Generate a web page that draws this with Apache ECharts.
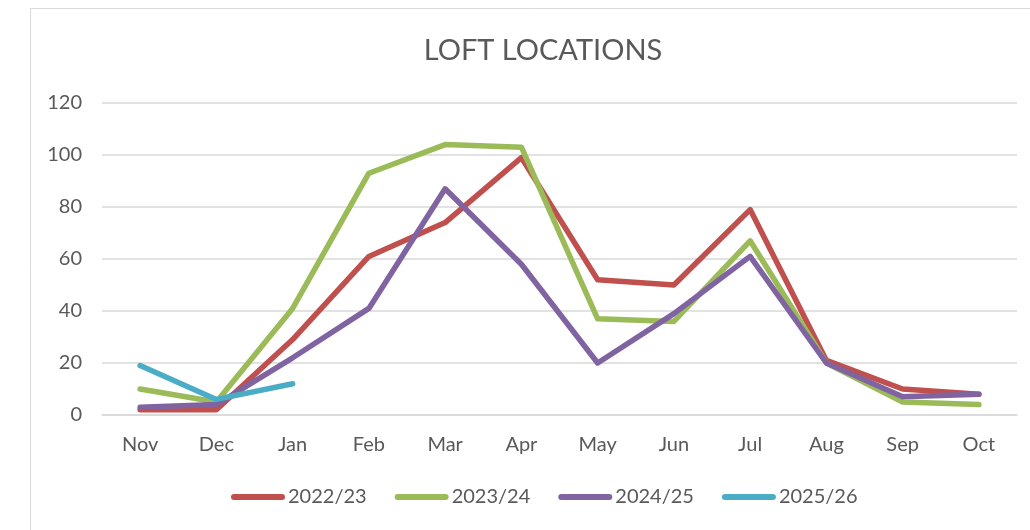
<!DOCTYPE html>
<html>
<head>
<meta charset="utf-8">
<script src="https://cdn.jsdelivr.net/npm/echarts@6/dist/echarts.min.js"></script>
<style>
  html, body { margin: 0; padding: 0; background: #fff; }
  #chart { width: 1030px; height: 530px; }
</style>
</head>
<body>
<div id="chart"></div>
<script>
const months = ['Nov', 'Dec', 'Jan', 'Feb', 'Mar', 'Apr', 'May', 'Jun', 'Jul', 'Aug', 'Sep', 'Oct']
const data2223 = [2, 2, 29, 61, 74, 99, 52, 50, 79, 21, 10, 8]
const data2324 = [10, 5, 41, 93, 104, 103, 37, 36, 67, 20, 5, 4]
const data2425 = [3, 4, 22, 41, 87, 58, 20, 39, 61, 20, 7, 8]
const data2526 = [19, 6, 12]

const font = 'Lato, "Open Sans", sans-serif'
const colors = ['#C0504D', '#9BBB59', '#8064A2', '#4BACC6']
const names = ['2022/23', '2023/24', '2024/25', '2025/26']
const seriesData = [data2223, data2324, data2425, data2526]

const chart = echarts.init(document.getElementById('chart'))
chart.setOption({
    backgroundColor: '#fff',
    animation: false,
    title: {
        text: 'LOFT LOCATIONS',
        left: 538,
        top: 31,
        textAlign: 'center',
        textStyle: { color: '#595959', fontSize: 29, fontWeight: 'normal', fontFamily: font },
    },
    graphic: [{
        type: 'rect',
        shape: { x: 30.5, y: 8.5, width: 1040, height: 540 },
        style: { fill: 'none', stroke: '#d9d9d9', lineWidth: 1 },
        silent: true,
    }],
    legend: {
        bottom: 18,
        left: 226,
        itemWidth: 54,
        itemHeight: 7,
        itemGap: 28,
        icon: 'path://M3 0h48a3 3 0 0 1 0 6h-48a3 3 0 0 1 0 -6z',
        textStyle: { color: '#595959', fontSize: 20, fontFamily: font, padding: [0, 0, 0, -2] },
        data: names,
    },
    grid: { left: 102, right: 13, top: 103, bottom: 115 },
    xAxis: {
        type: 'category',
        boundaryGap: true,
        data: months,
        axisLine: { show: true, lineStyle: { color: '#d9d9d9', width: 1.5 } },
        axisTick: { show: false },
        axisLabel: { color: '#595959', fontSize: 20, fontFamily: font, margin: 20 },
    },
    yAxis: {
        type: 'value',
        min: 0,
        max: 120,
        interval: 20,
        axisLine: { show: false },
        axisTick: { show: false },
        splitLine: { lineStyle: { color: '#d9d9d9', width: 1.5 } },
        axisLabel: { color: '#595959', fontSize: 20, fontFamily: font, margin: 20 },
    },
    series: seriesData.map((d, i) => ({
        name: names[i],
        type: 'line',
        data: d,
        symbol: 'none',
        color: colors[i],
        lineStyle: { width: 5.5, color: colors[i], cap: 'round', join: 'round' },
    })),
})
</script>
</body>
</html>
